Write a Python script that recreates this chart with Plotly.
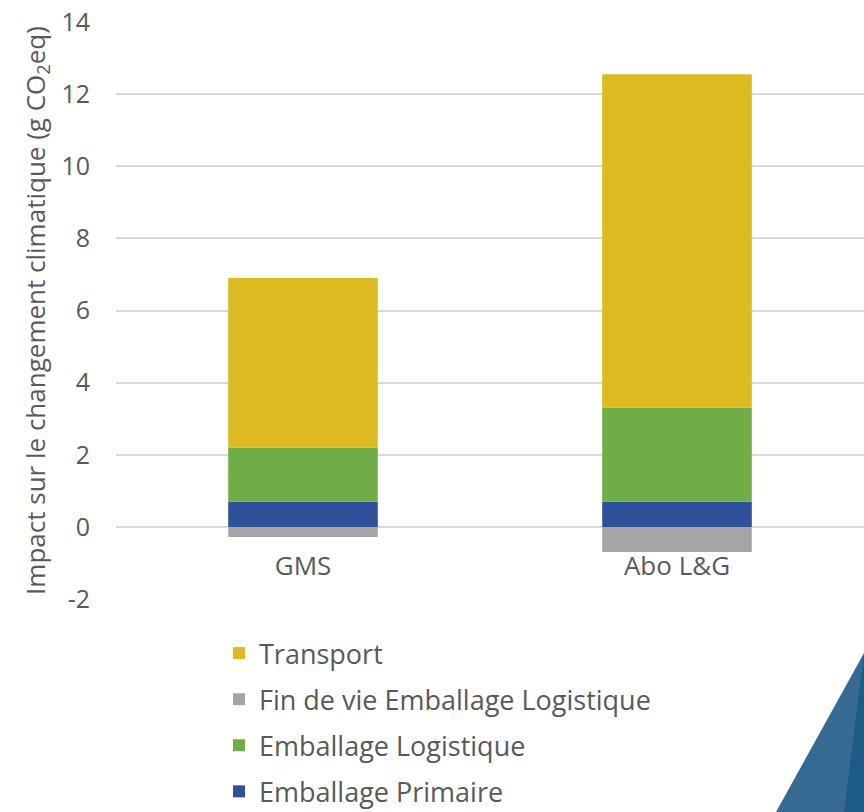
import plotly.graph_objects as go

categories = ["GMS", "Abo L&G"]
emballage_primaire = [0.7, 0.7]
emballage_logistique = [1.5, 2.6]
fin_de_vie = [-0.28, -0.7]
transport = [4.7, 9.25]
y_ticks = [-2, 0, 2, 4, 6, 8, 10, 12, 14]
y_tick_text = ["-2", "0", "2", "4", "6", "8", "10", "12", "14"]

FONT = "Open Sans"
TXT = "#595959"

fig = go.Figure()
series = [
    ("Emballage Primaire", emballage_primaire, "#2F5199", 4),
    ("Emballage Logistique", emballage_logistique, "#70AD47", 3),
    ("Fin de vie Emballage Logistique", fin_de_vie, "#A5A5A5", 2),
    ("Transport", transport, "#DDB922", 1),
]
for name, vals, col, rank in series:
    fig.add_trace(go.Bar(x=categories, y=vals, name=name, legendgroup=name,
                         legendrank=rank,
                         marker=dict(color=col, line=dict(width=0))))

L, T = 116, 22
W, H = 864, 812
plot_w = W - L
plot_h = 599 - T

def px(x):
    return (x - L) / plot_w

def py(y):
    return (599 - y) / plot_h

fig.update_layout(
    width=W, height=H,
    margin=dict(l=L, r=0, t=T, b=H - 599, autoexpand=False),
    barmode="relative", bargap=0.6,
    plot_bgcolor="white", paper_bgcolor="white",
    font=dict(family=FONT, color=TXT, size=24),
    showlegend=True,
    legend=dict(orientation="v", x=px(219), y=py(629), xanchor="left", yanchor="top",
                traceorder="grouped", tracegroupgap=8,
                font=dict(size=27, color=TXT, family=FONT),
                itemclick=False),
    xaxis=dict(anchor="free", position=2 / 16, showline=False, ticks="",
               tickfont=dict(size=26, color=TXT), ticklabelstandoff=21,
               showgrid=False, zeroline=False),
    yaxis=dict(range=[-2, 14], tickvals=y_ticks, ticktext=y_tick_text,
               showgrid=True, gridcolor="#D9D9D9",
               gridwidth=1.5, zeroline=False, showline=False, ticks="",
               tickfont=dict(size=25, color=TXT), ticklabelstandoff=25,
               title=dict(text="Impact sur le changement climatique (g CO<sub>2</sub>eq)",
                          font=dict(size=26, color=TXT), standoff=8)),
    shapes=[
        dict(type="path", xref="paper", yref="paper", layer="above",
             path=f"M {px(864)} {py(653)} L {px(776)} {py(812)} L {px(864)} {py(812)} Z",
             fillcolor="#366A92", line=dict(width=0)),
        dict(type="path", xref="paper", yref="paper", layer="above",
             path=f"M {px(864)} {py(653)} L {px(844)} {py(812)} L {px(864)} {py(812)} Z",
             fillcolor="#1D5C85", line=dict(width=0)),
    ],
)

fig.write_html("out.html", config={"displayModeBar": False},
               post_script="document.body.style.margin='0';document.body.style.overflow='hidden';")
